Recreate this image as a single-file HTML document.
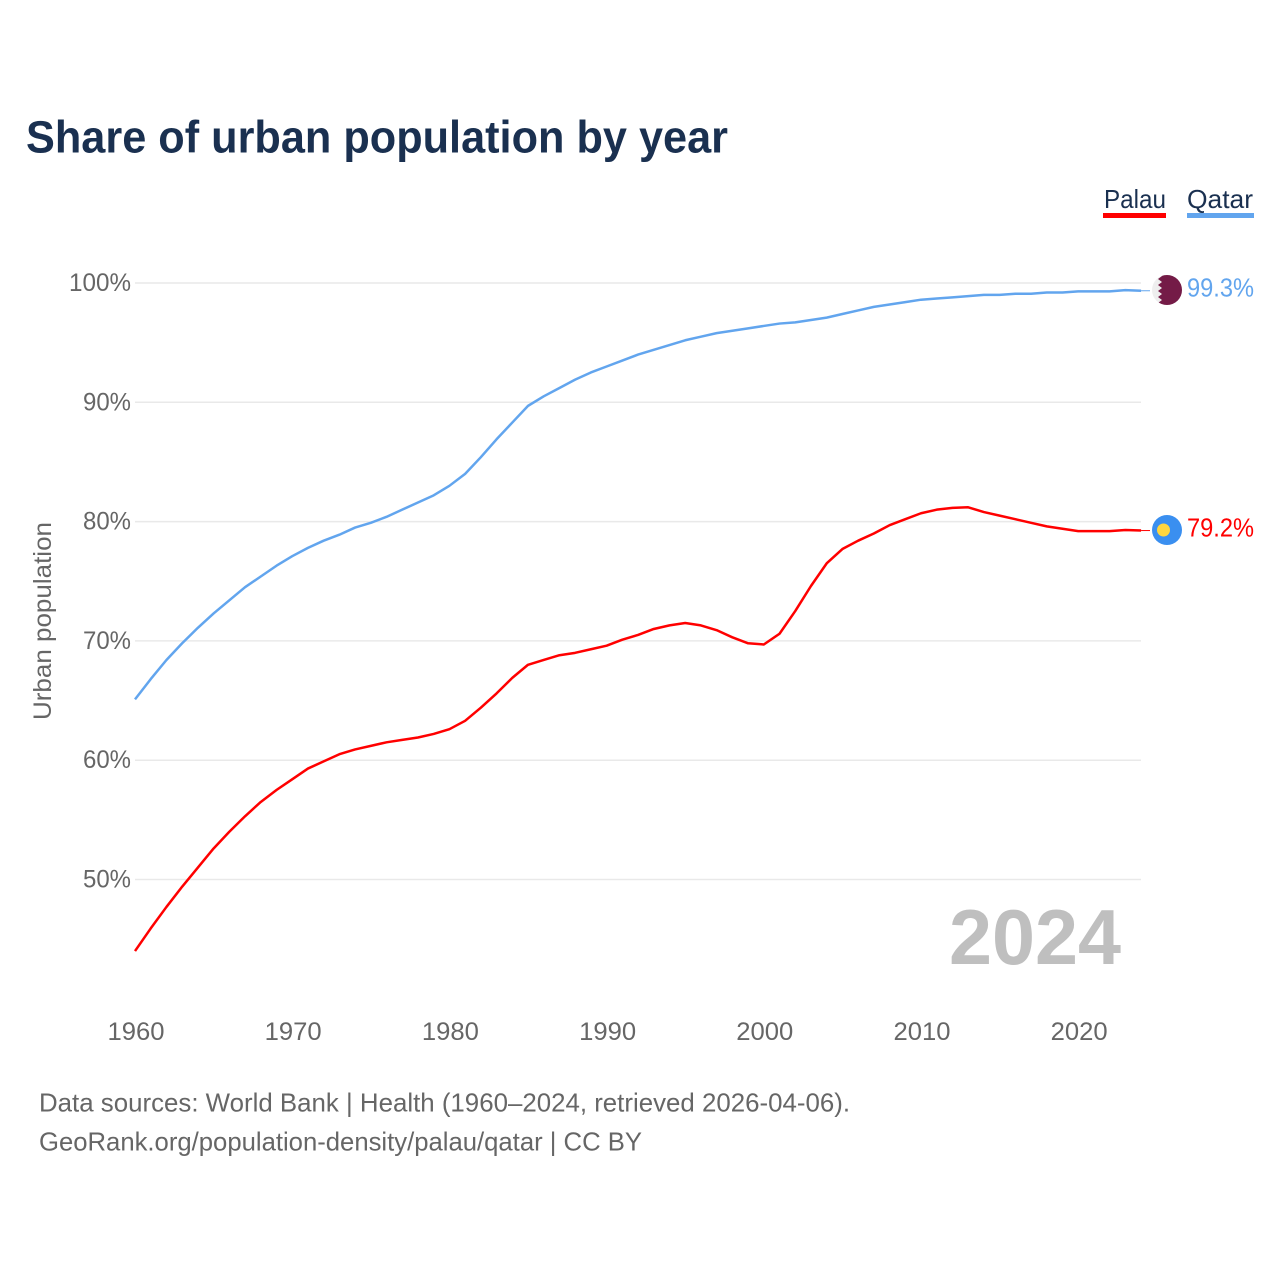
<!DOCTYPE html>
<html lang="en">
<head>
<meta charset="utf-8">
<title>Share of urban population by year</title>
<style>
html,body{margin:0;padding:0;background:#fff;}
svg{display:block;font-family:"Liberation Sans",sans-serif;}
</style>
</head>
<body>
<svg id="chart" xmlns="http://www.w3.org/2000/svg" width="1280" height="1280" viewBox="0 0 1280 1280">
  <defs>
    <clipPath id="qatar-clip"><circle cx="1167" cy="290" r="15"></circle></clipPath>
  </defs>
  <rect x="0" y="0" width="1280" height="1280" fill="#ffffff"></rect>
  <text x="26" y="152.5" font-size="45" font-weight="700" fill="#1a3050" textLength="702" lengthAdjust="spacingAndGlyphs">Share of urban population by year</text>

  <g id="grid-layer"></g>
  <g id="y-tick-layer"></g>
  <g id="x-tick-layer"></g>
  <text transform="translate(51 621) rotate(-90)" text-anchor="middle" font-size="25" fill="#666666" textLength="198" lengthAdjust="spacingAndGlyphs">Urban population</text>

  <text x="949" y="964" font-size="78" font-weight="700" fill="#bfbfbf" textLength="172" lengthAdjust="spacingAndGlyphs">2024</text>

  <g id="series-layer"></g>

  <g>
    <g>
      <text x="1104" y="208" font-size="26" fill="#1a3050" textLength="62" lengthAdjust="spacingAndGlyphs">Palau</text>
      <rect x="1103" y="213" width="63" height="5" fill="#ff0000"></rect>
    </g>
    <g>
      <text x="1187" y="208" font-size="26" fill="#1a3050" textLength="66" lengthAdjust="spacingAndGlyphs">Qatar</text>
      <rect x="1187" y="213" width="67" height="5" fill="#62a5ee"></rect>
    </g>
  </g>

  <g clip-path="url(#qatar-clip)">
    <rect x="1150" y="273" width="34" height="34" fill="#eeeeee"></rect>
    <polygon fill="#741b47" points="1184,273 1158,273 1162,276 1158,279 1162,282 1158,285 1162,288 1158,291 1162,294 1158,297 1162,300 1158,303 1162,306 1158,307 1184,307"></polygon>
  </g>
  <g>
    <circle cx="1167" cy="530" r="15" fill="#3a8ff0"></circle>
    <circle cx="1163.5" cy="530" r="6.5" fill="#ffd63f"></circle>
  </g>

  <text x="1187" y="296.5" font-size="26" fill="#62a5ee" textLength="67" lengthAdjust="spacingAndGlyphs">99.3%</text>
  <text x="1187" y="536.5" font-size="26" fill="#ff0000" textLength="67" lengthAdjust="spacingAndGlyphs">79.2%</text>

  <text x="39" y="1111.5" font-size="26" fill="#666666" textLength="811" lengthAdjust="spacingAndGlyphs">Data sources: World Bank | Health (1960–2024, retrieved 2026-04-06).</text>
  <text x="39" y="1150.5" font-size="26" fill="#666666" textLength="603" lengthAdjust="spacingAndGlyphs">GeoRank.org/population-density/palau/qatar | CC BY</text>
</svg>

<script>
const years = [1960,1961,1962,1963,1964,1965,1966,1967,1968,1969,1970,1971,1972,1973,1974,1975,1976,1977,1978,1979,1980,1981,1982,1983,1984,1985,1986,1987,1988,1989,1990,1991,1992,1993,1994,1995,1996,1997,1998,1999,2000,2001,2002,2003,2004,2005,2006,2007,2008,2009,2010,2011,2012,2013,2014,2015,2016,2017,2018,2019,2020,2021,2022,2023,2024];
const palauValues = [44.0,45.9,47.7,49.4,51.0,52.6,54.0,55.3,56.5,57.5,58.4,59.3,59.9,60.5,60.9,61.2,61.5,61.7,61.9,62.2,62.6,63.3,64.4,65.6,66.9,68.0,68.4,68.8,69.0,69.3,69.6,70.1,70.5,71.0,71.3,71.5,71.3,70.9,70.3,69.8,69.7,70.6,72.5,74.6,76.5,77.7,78.4,79.0,79.7,80.2,80.7,81.0,81.15,81.2,80.8,80.5,80.2,79.9,79.6,79.4,79.2,79.2,79.2,79.3,79.25];
const qatarValues = [65.1,66.8,68.4,69.8,71.1,72.3,73.4,74.5,75.4,76.3,77.1,77.8,78.4,78.9,79.5,79.9,80.4,81.0,81.6,82.2,83.0,84.0,85.4,86.9,88.3,89.7,90.5,91.2,91.9,92.5,93.0,93.5,94.0,94.4,94.8,95.2,95.5,95.8,96.0,96.2,96.4,96.6,96.7,96.9,97.1,97.4,97.7,98.0,98.2,98.4,98.6,98.7,98.8,98.9,99.0,99.0,99.1,99.1,99.2,99.2,99.3,99.3,99.3,99.4,99.35];
const yTicks = [100,90,80,70,60,50];
const xTicks = [1960,1970,1980,1990,2000,2010,2020];

const SVG_NS = 'http://www.w3.org/2000/svg';
const xScale = function (year) { return 135 + (year - 1960) * 15.72; };
const yScale = function (value) { return 283 + (100 - value) * 11.93; };

function make(tag, attrs, parent) {
  const el = document.createElementNS(SVG_NS, tag);
  Object.keys(attrs).forEach(function (k) { el.setAttribute(k, attrs[k]); });
  parent.appendChild(el);
  return el;
}

const gridLayer = document.getElementById('grid-layer');
const yTickLayer = document.getElementById('y-tick-layer');
const xTickLayer = document.getElementById('x-tick-layer');
const seriesLayer = document.getElementById('series-layer');

yTicks.forEach(function (tick) {
  const y = yScale(tick);
  const line = make('line', { x1: 135, x2: 1141, y1: y, y2: y, stroke: '#e9e9e9', 'stroke-width': 1.5 }, gridLayer);
  
  
  const label = make('text', { x: 131, y: y + 8, 'text-anchor': 'end', 'font-size': 25, fill: '#666666', textLength: tick === 100 ? 62 : 48, lengthAdjust: 'spacingAndGlyphs' }, yTickLayer);
  
  
  label.textContent = tick + '%';
});

xTicks.forEach(function (tick) {
  const label = make('text', { x: xScale(tick) + 1, y: 1040, 'text-anchor': 'middle', 'font-size': 25, fill: '#666666', textLength: 57, lengthAdjust: 'spacingAndGlyphs' }, xTickLayer);
  
  
  label.textContent = String(tick);
});

function drawSeries(values, color, name) {
  const pts = values.map(function (v, i) { return xScale(years[i]).toFixed(2) + ',' + yScale(v).toFixed(2); });
  const line = make('polyline', { points: pts.join(' '), fill: 'none', stroke: color, 'stroke-width': 2.5, 'stroke-linejoin': 'round' }, seriesLayer);
  
  
  const lastY = yScale(values[values.length - 1]);
  const lead = make('line', { x1: xScale(years[years.length - 1]), x2: 1150, y1: lastY, y2: lastY, stroke: color, 'stroke-width': 1 }, seriesLayer);
  
  
}

drawSeries(qatarValues, '#62a5ee', 'qatar');
drawSeries(palauValues, '#ff0000', 'palau');
</script>
</body>
</html>
